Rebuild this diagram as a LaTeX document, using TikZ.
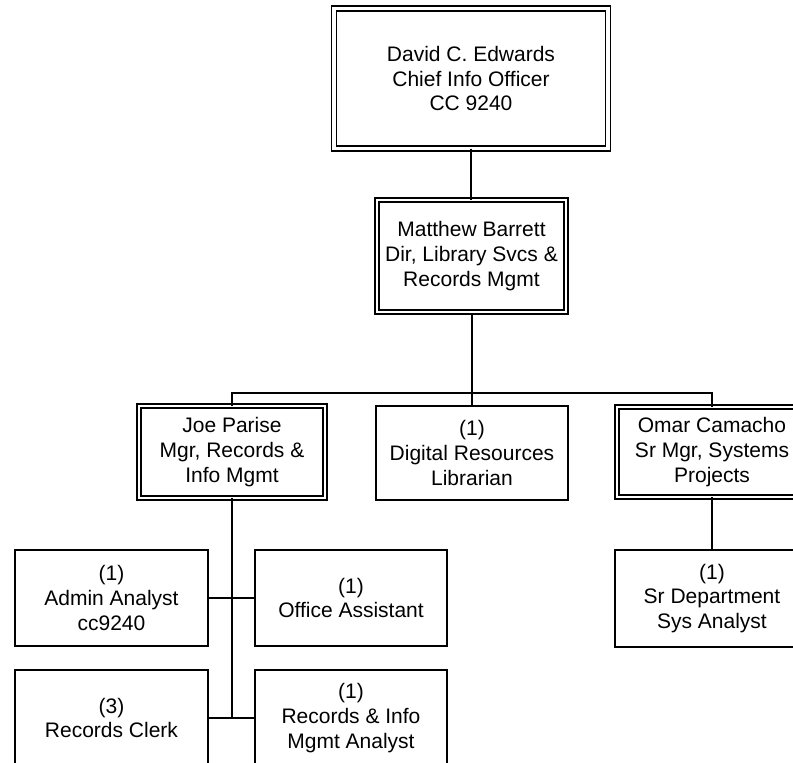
\documentclass[tikz,border=0pt]{standalone}
\usepackage{fontspec}
\setmainfont{Liberation Sans}
\begin{document}
\begin{tikzpicture}[x=1pt,y=-1pt,
  every node/.style={font=\fontsize{21}{24.6}\selectfont, align=center, inner sep=0pt, outer sep=0pt},
  single/.style={draw, line width=2pt, rectangle},
  dbl/.style={draw, line width=1.7pt, double, double distance=2.4pt, rectangle},
  conn/.style={line width=2pt}]
\useasboundingbox (0,0) rectangle (793,763);
\clip (0,0) rectangle (793,763);
\node[dbl, double distance=3.4pt, minimum width=274pt, minimum height=140pt] (cio) at (471,78.5) {David C. Edwards\\Chief Info Officer\\CC 9240};
\node[dbl, double distance=2pt, minimum width=189pt, minimum height=112pt] (matt) at (471.5,256) {Matthew Barrett\\Dir, Library Svcs \&\\Records Mgmt};
\node[dbl, minimum width=186pt, minimum height=92pt] (joe) at (232,452) {Joe Parise\\Mgr, Records \&\\Info Mgmt};
\node[single, minimum width=192pt, minimum height=94pt] (dig) at (472,453) {(1)\\Digital Resources\\Librarian};
\node[dbl, minimum width=190pt, minimum height=90pt] (omar) at (712,452) {Omar Camacho\\Sr Mgr, Systems\\Projects};
\node[single, minimum width=194pt, minimum height=97pt] (srd) at (712,598.5) {(1)\\Sr Department\\Sys Analyst};
\node[single, minimum width=193pt, minimum height=96pt] (adm) at (111.5,598) {(1)\\Admin Analyst\\cc9240};
\node[single, minimum width=192pt, minimum height=96pt] (off) at (351,598) {(1)\\Office Assistant};
\node[single, minimum width=193pt, minimum height=96pt] (clk) at (111.5,718) {(3)\\Records Clerk};
\node[single, minimum width=192pt, minimum height=96pt] (rim) at (351,718) {(1)\\Records \& Info\\Mgmt Analyst};
\coordinate (bar) at (472,393);
\coordinate (mattb) at (472,313);
\draw[conn] (cio.south) -- (cio.south |- matt.north);
\draw[conn] (mattb) -- (bar);
\draw[conn] (joe.north) |- (bar) -| (omar.north);
\draw[conn] (bar) -- (dig.north);
\draw[conn] (omar.south) -- (srd.north);
\draw[conn] (joe.south) |- (clk.east);
\draw[conn] (joe.south) |- (rim.west);
\draw[conn] (joe.south) |- (adm.east);
\draw[conn] (joe.south) |- (off.west);
\end{tikzpicture}
\end{document}
